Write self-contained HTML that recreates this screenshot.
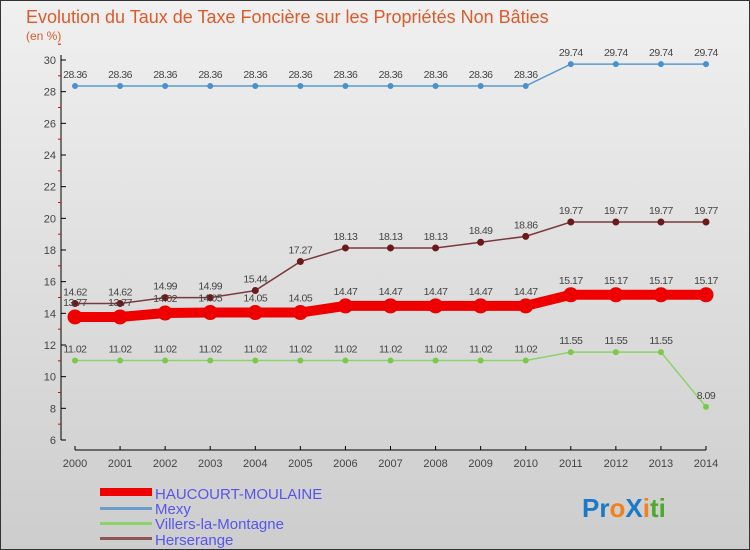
<!DOCTYPE html>
<html><head><meta charset="utf-8"><style>
body{margin:0;background:#fff}
#wrap{width:750px;height:550px;position:relative;overflow:hidden;font-family:"Liberation Sans",sans-serif}
</style></head><body>
<div id="wrap">
<svg id="svg" width="750" height="550" xmlns="http://www.w3.org/2000/svg">
<defs><linearGradient id="bg" x1="0" y1="0" x2="0" y2="1"><stop offset="0" stop-color="#f0f0f0"/><stop offset="1" stop-color="#cdcdcd"/></linearGradient></defs>
<rect x="0.5" y="0.5" width="749" height="549" fill="url(#bg)" stroke="#333"/>
<text x="26" y="23" font-size="18" fill="#e05a2a">Evolution du Taux de Taxe Foncière sur les Propriétés Non Bâties</text>
<text x="26" y="40" font-size="12" fill="#e05a2a">(en %)</text>
<g id="axes"></g><g id="series"></g>
<g>
<rect x="100" y="488" width="52" height="8" fill="#e00"/>
<text x="155" y="499" font-size="15" fill="#5555ee">HAUCOURT-MOULAINE</text>
<rect x="100" y="507" width="52" height="3" fill="#6a9ec9"/>
<text x="155" y="514" font-size="15" fill="#5555ee">Mexy</text>
<rect x="100" y="522" width="52" height="3" fill="#8dd36b"/>
<text x="155" y="529" font-size="15" fill="#5555ee">Villers-la-Montagne</text>
<rect x="100" y="537" width="52" height="3" fill="#8e5555"/>
<text x="155" y="545" font-size="15" fill="#5555ee">Herserange</text>
</g>
<g font-size="26" font-weight="bold">
<text x="582" y="517"><tspan fill="#1a7ac8">Pr</tspan><tspan fill="#f08020">o</tspan><tspan fill="#1a7ac8">X</tspan><tspan fill="#f08020">i</tspan><tspan fill="#4caa30">ti</tspan></text>
</g>
</svg>
</div>
<script>
const years=[2000,2001,2002,2003,2004,2005,2006,2007,2008,2009,2010,2011,2012,2013,2014];
const haucourt=[13.77,13.77,14.02,14.05,14.05,14.05,14.47,14.47,14.47,14.47,14.47,15.17,15.17,15.17,15.17];
const mexy=[28.36,28.36,28.36,28.36,28.36,28.36,28.36,28.36,28.36,28.36,28.36,29.74,29.74,29.74,29.74];
const villers=[11.02,11.02,11.02,11.02,11.02,11.02,11.02,11.02,11.02,11.02,11.02,11.55,11.55,11.55,8.09];
const herserange=[14.62,14.62,14.99,14.99,15.44,17.27,18.13,18.13,18.13,18.49,18.86,19.77,19.77,19.77,19.77];
const yTicks=[6,8,10,12,14,16,18,20,22,24,26,28,30];
const NS="http://www.w3.org/2000/svg";
const xs=i=>75+i*(706-75)/14;
const ys=v=>440-(v-6)*(380/24);
function mk(tag,at,parent){const e=document.createElementNS(NS,tag);for(const k in at)e.setAttribute(k,at[k]);parent.appendChild(e);return e;}
const ax=document.getElementById('axes'),sr=document.getElementById('series');
let yl=mk('line',{x1:61,y1:55,x2:61,y2:440,stroke:'#000'},ax);


yTicks.forEach(v=>{
 mk('line',{x1:61,x2:66,y1:ys(v),y2:ys(v),stroke:'#000'},ax);
 mk('line',{x1:58,x2:61,y1:ys(v+1),y2:ys(v+1),stroke:'#e00'},ax);
 const t=mk('text',{x:56,y:ys(v)+4,'text-anchor':'end','font-size':11,fill:'#444'},ax);t.textContent=v;
 
 
});
let xl=mk('line',{x1:75,y1:450,x2:706,y2:450,stroke:'#000'},ax);


years.forEach((y,i)=>{
 mk('line',{x1:xs(i),x2:xs(i),y1:446,y2:450,stroke:'#000'},ax);
 const t=mk('text',{x:xs(i),y:467,'text-anchor':'middle','font-size':11,fill:'#444'},ax);t.textContent=y;
 
 
});
function draw(vals,name,color,w,r,dot,labels,dy){
 const g=mk('g',{},sr);
 
 
 mk('polyline',{points:vals.map((v,i)=>xs(i)+','+ys(v)).join(' '),fill:'none',stroke:color,'stroke-width':w},g);
 vals.forEach((v,i)=>{
  const c=mk('circle',{cx:xs(i),cy:ys(v),r:r,fill:dot},g);
  
  
  if(labels){const t=mk('text',{x:xs(i),y:ys(v)+dy,'text-anchor':'middle','font-size':10.5,fill:'#444','letter-spacing':'-0.5'},g);t.textContent=v;
   
   }
 });
}
draw(mexy,'mexy','#5a9ad0',1.5,3,'#4a90d0',true,-8);
draw(villers,'villers','#8dd36b',1.5,3,'#7cc84a',true,-8);
draw(herserange,'herserange','#7a3a3a',1.5,3.5,'#6a1a1a',true,-8);
draw(haucourt,'haucourt','#e00',10,7.5,'#e00',true,-11);
</script>
</body></html>
